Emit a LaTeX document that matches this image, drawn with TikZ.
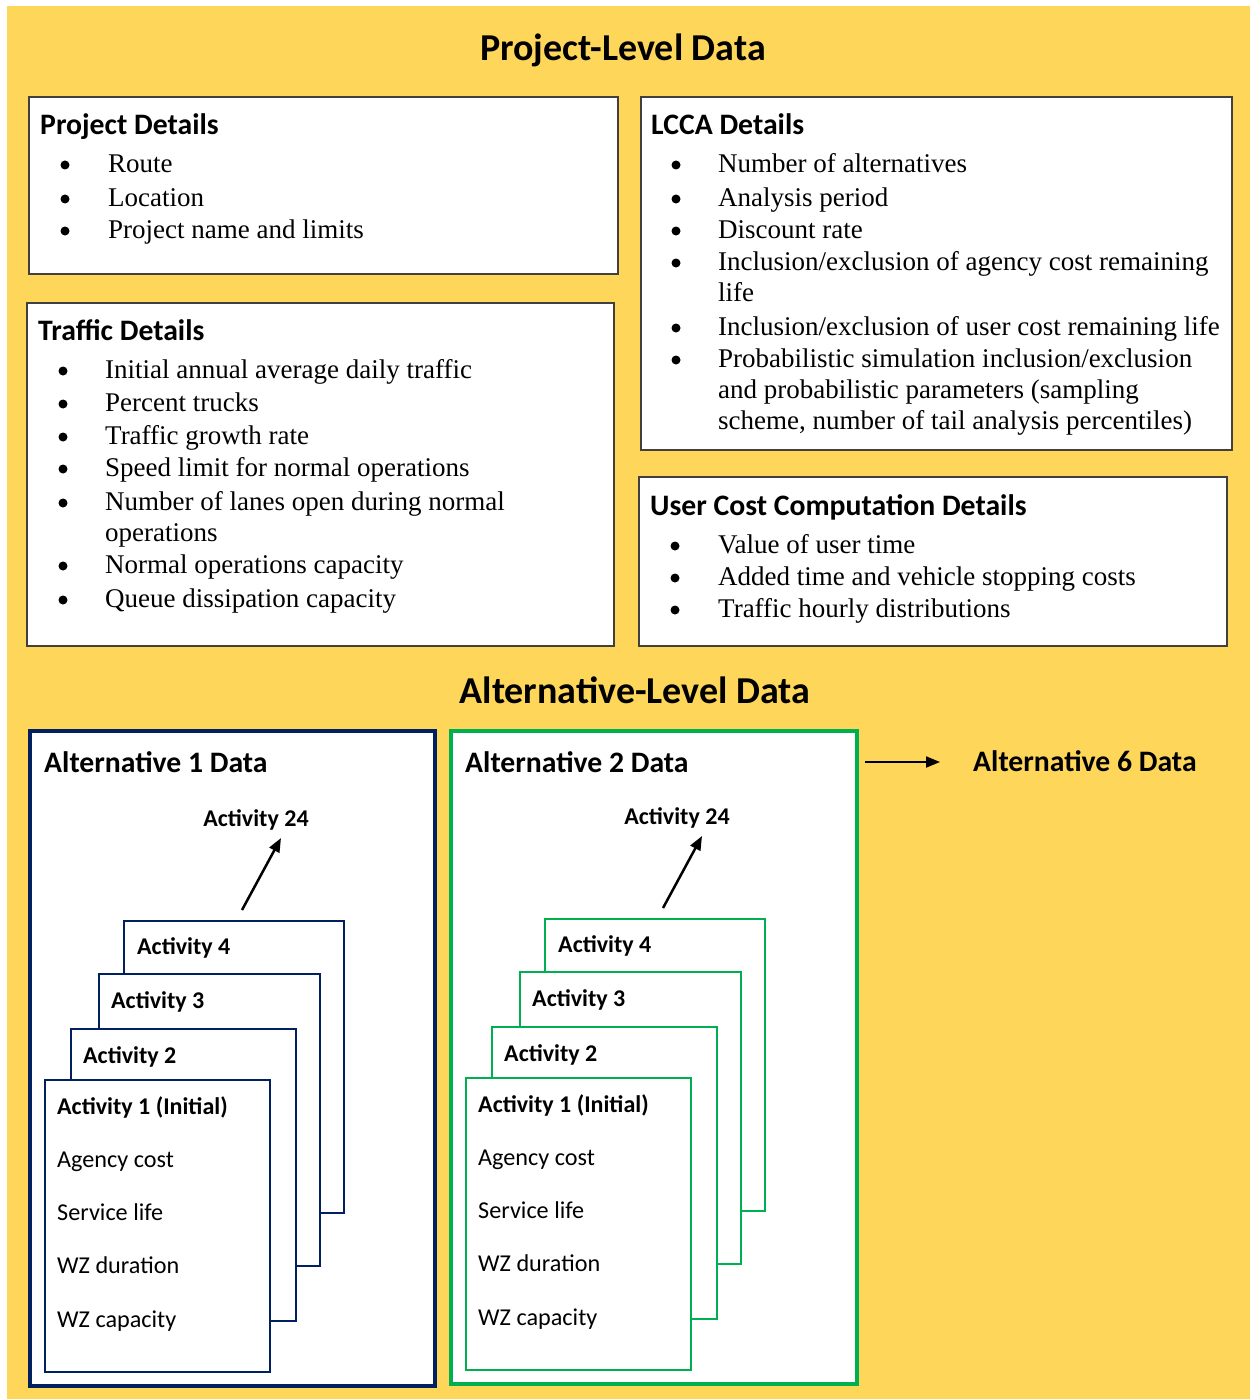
\documentclass[tikz,border=0pt]{standalone}
\usepackage{fontspec}
\setmainfont{Liberation Serif}
\newfontfamily\calfont{Carlito}
\usetikzlibrary{arrows.meta}
\definecolor{bgyellow}{RGB}{254,214,90}
\definecolor{navy}{RGB}{0,32,96}
\definecolor{ogreen}{RGB}{0,176,80}
\definecolor{boxline}{RGB}{64,64,64}
\tikzset{
  pbox/.style={draw=boxline, line width=1.5pt, fill=white, inner sep=0pt, outer sep=0pt},
  altbox/.style={draw=#1, line width=4.5pt, fill=white, inner sep=0pt, outer sep=0pt},
  actbox/.style={draw=#1, line width=2.5pt, fill=white, inner sep=0pt, outer sep=0pt},
  bdot/.style={circle, fill=black, inner sep=0pt, minimum size=9pt},
  bul/.style={anchor=mid west, inner sep=0pt, yshift=-6pt, font=\fontsize{27}{32}\selectfont},
  hd/.style={anchor=mid west, inner sep=0pt, yshift=-6pt, font=\calfont\bfseries\fontsize{29.7}{34}\selectfont},
  title/.style={anchor=center, inner sep=0pt, yshift=-2pt, font=\calfont\bfseries\fontsize{38}{44}\selectfont},
  acth/.style={anchor=mid west, inner sep=0pt, yshift=-5pt, font=\calfont\bfseries\fontsize{24}{28}\selectfont},
  actt/.style={anchor=mid west, inner sep=0pt, yshift=-5pt, font=\calfont\fontsize{24.2}{28}\selectfont},
  arr/.style={line width=2.5pt, -{Triangle[length=14pt,width=11pt]}},
}
\newcommand{\bitem}[5]{%
  \node[bdot] (#1b) at (#2+5,#4+1) {};
  \node[bul] (#1) at (#3,#4) {#5};}
\newcommand{\actstack}[2]{% color, prefix
  \node[actbox=#1, minimum width=220, minimum height=292] (#2a4) at (234,1067) {};
  \node[acth] (#2t4) at (137,947) {Activity 4};
  \node[actbox=#1, minimum width=221, minimum height=292] (#2a3) at (209.5,1120) {};
  \node[acth] (#2t3) at (111,1001) {Activity 3};
  \node[actbox=#1, minimum width=225, minimum height=292] (#2a2) at (183.5,1175) {};
  \node[acth] (#2t2) at (83,1056) {Activity 2};
  \node[actbox=#1, minimum width=225, minimum height=292] (#2a1) at (157.5,1226) {};
  \node[acth] (#2t1) at (57,1107) {Activity 1 (Initial)};
  \node[actt] (#2c1) at (57,1160) {Agency cost};
  \node[actt] (#2c2) at (57,1213) {Service life};
  \node[actt] (#2c3) at (57,1266) {WZ duration};
  \node[actt] (#2c4) at (57,1320) {WZ capacity};
  \node[acth, anchor=center, yshift=3pt] (#2t24) at (256,818) {Activity 24};
  \coordinate (#2as) at (242,910);
  \coordinate (#2ae) at (281,838);
  \draw[arr] (#2as) -- (#2ae);
}
\begin{document}
\begin{tikzpicture}[x=1pt,y=-1pt]
\useasboundingbox (0,0) rectangle (1250,1399);
\fill[bgyellow] (7,6) rectangle (1250,1399);
\node[title] (ttop) at (623,48) {Project-Level Data};

% Project details
\node[pbox, minimum width=589, minimum height=177] (pd) at (323.5,185.5) {};
\node[hd] (pdh) at (40,126) {Project Details};
\bitem{p1}{60}{108}{164}{Route}
\bitem{p2}{60}{108}{198}{Location}
\bitem{p3}{60}{108}{230}{Project name and limits}

% LCCA details
\node[pbox, minimum width=591, minimum height=353] (lc) at (936.5,273.5) {};
\node[hd] (lch) at (651,126) {LCCA Details};
\bitem{l1}{671}{718}{164}{Number of alternatives}
\bitem{l2}{671}{718}{198}{Analysis period}
\bitem{l3}{671}{718}{230}{Discount rate}
\bitem{l4}{671}{718}{262}{Inclusion/exclusion of agency cost remaining}
\node[bul] (l4c) at (718,293) {life};
\bitem{l5}{671}{718}{327}{Inclusion/exclusion of user cost remaining life}
\bitem{l6}{671}{718}{359}{Probabilistic simulation inclusion/exclusion}
\node[bul] (l6c) at (718,390) {and probabilistic parameters (sampling};
\node[bul] (l6d) at (718,421) {scheme, number of tail analysis percentiles)};

% Traffic details
\node[pbox, minimum width=587, minimum height=343] (td) at (320.5,474.5) {};
\node[hd] (tdh) at (38,332) {Traffic Details};
\bitem{t1}{58}{105}{370}{Initial annual average daily traffic}
\bitem{t2}{58}{105}{403}{Percent trucks}
\bitem{t3}{58}{105}{436}{Traffic growth rate}
\bitem{t4}{58}{105}{468}{Speed limit for normal operations}
\bitem{t5}{58}{105}{502}{Number of lanes open during normal}
\node[bul] (t5c) at (105,533) {operations};
\bitem{t6}{58}{105}{565}{Normal operations capacity}
\bitem{t7}{58}{105}{599}{Queue dissipation capacity}

% User cost details
\node[pbox, minimum width=588, minimum height=169] (uc) at (933,561.5) {};
\node[hd] (uch) at (650,507) {User Cost Computation Details};
\bitem{u1}{670}{718}{545}{Value of user time}
\bitem{u2}{670}{718}{577}{Added time and vehicle stopping costs}
\bitem{u3}{670}{718}{609}{Traffic hourly distributions}

\node[title] (tmid) at (635,688) {Alternative-Level Data};

% Alternative 1
\node[altbox=navy, minimum width=405, minimum height=655] (alt1) at (232.5,1058.5) {};
\node[hd] (alt1h) at (44,764) {Alternative 1 Data};
\actstack{navy}{A}

% Alternative 2
\node[altbox=ogreen, minimum width=406, minimum height=653] (alt2) at (654,1057.5) {};
\node[hd] (alt2h) at (465,764) {Alternative 2 Data};
\begin{scope}[shift={(421,-2)}]
\actstack{ogreen}{B}
\end{scope}

% Alternative 6
\node[hd] (alt6) at (973,763) {Alternative 6 Data};
\coordinate (a6s) at (865,762);
\coordinate (a6e) at (940,762);
\draw[line width=2pt, -{Triangle[length=14pt,width=11pt]}] (a6s) -- (a6e);
\end{tikzpicture}
\end{document}
